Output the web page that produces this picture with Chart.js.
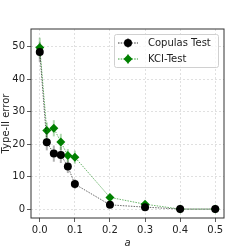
<!DOCTYPE html>
<html>
<head>
<meta charset="utf-8">
<script src="https://cdn.jsdelivr.net/npm/chart.js@4/dist/chart.umd.min.js"></script>
<style>
  html, body { margin: 0; padding: 0; background: #fff; }
  #wrap { width: 249px; height: 249px; }
</style>
</head>
<body>
<div id="wrap"><canvas id="chart" width="249" height="249"></canvas></div>
<script>
// values
const aValues = [0, 0.02, 0.04, 0.06, 0.08, 0.1, 0.2, 0.3, 0.4, 0.5];
const copulasErr = [48.4, 20.6, 17.1, 16.7, 13.1, 7.7, 1.3, 0.6, 0, 0];
const copulasSd = [3, 2.5, 2.5, 2.5, 2, 1.5, 0.8, 0.5, 0, 0];
const kciErr = [49.8, 24.2, 24.9, 20.7, 16.5, 16.0, 3.6, 1.5, 0, 0];
const kciSd = [3, 2.5, 2.5, 2.5, 2, 2, 1, 0.8, 0, 0];
const xTicks = [0, 0.1, 0.2, 0.3, 0.4, 0.5];
const yTicks = [0, 10, 20, 30, 40, 50];
const seriesNames = ['Copulas Test', 'KCI-Test'];

const FONT = 'DejaVu Sans';

function pts(ys) { return aValues.map((x, i) => ({ x: x, y: ys[i] })); }

// vertical error bars, drawn under the markers
const errorBars = {
  id: 'errorBars',
  beforeDatasetsDraw(chart) {
    const ctx = chart.ctx, xs = chart.scales.x, ys = chart.scales.y;
    const sets = [[copulasErr, copulasSd, 'rgba(0,0,0,0.3)'], [kciErr, kciSd, 'rgba(0,128,0,0.3)']];
    ctx.save();
    ctx.lineWidth = 2;
    sets.forEach(([v, sd, col]) => {
      ctx.strokeStyle = col;
      v.forEach((y, i) => {
        if (!sd[i]) return;
        const px = xs.getPixelForValue(aValues[i]);
        ctx.beginPath();
        ctx.moveTo(px, ys.getPixelForValue(y - sd[i]));
        ctx.lineTo(px, ys.getPixelForValue(y + sd[i]));
        ctx.stroke();
      });
    });
    ctx.restore();
  }
};

// frame + matplotlib style legend inside the axes
const frameLegend = {
  id: 'frameLegend',
  afterDraw(chart) {
    const ctx = chart.ctx, a = chart.chartArea;
    ctx.save();
    ctx.strokeStyle = '#333';
    ctx.lineWidth = 1;
    ctx.strokeRect(a.left, a.top, a.right - a.left, a.bottom - a.top);

    const bx = 114.5, by = 34.5, bw = 104, bh = 33;
    ctx.fillStyle = 'rgba(255,255,255,0.8)';
    ctx.strokeStyle = '#d0d0d0';
    ctx.beginPath();
    ctx.roundRect(bx, by, bw, bh, 2);
    ctx.fill();
    ctx.stroke();

    const rows = [
      { y: 43, color: '#000', style: 'circle', r: 4 },
      { y: 59, color: '#008000', style: 'rectRot', r: 4.5 }
    ];
    rows.forEach((row, i) => {
      ctx.strokeStyle = row.color;
      ctx.lineWidth = 0.8;
      ctx.setLineDash([1.5, 1.2]);
      ctx.beginPath();
      ctx.moveTo(118, row.y);
      ctx.lineTo(138, row.y);
      ctx.stroke();
      ctx.setLineDash([]);
      ctx.strokeStyle = row.color === '#000' ? 'rgba(0,0,0,0.3)' : 'rgba(0,128,0,0.3)';
      ctx.lineWidth = 2;
      ctx.beginPath();
      ctx.moveTo(128, row.y - 5);
      ctx.lineTo(128, row.y + 5);
      ctx.stroke();
      ctx.fillStyle = row.color;
      ctx.strokeStyle = row.color;
      Chart.helpers.drawPoint(ctx, { pointStyle: row.style, radius: row.r, borderWidth: 0 }, 128, row.y);
      ctx.fillStyle = '#222';
      ctx.font = '10px ' + FONT;
      ctx.textBaseline = 'middle';
      ctx.fillText(seriesNames[i], 148, row.y + 0.5);
    });
    ctx.restore();
  }
};

new Chart(document.getElementById('chart'), {
  type: 'line',
  data: {
    datasets: [
      {
        label: seriesNames[0],
        data: pts(copulasErr),
        borderColor: 'rgba(0,0,0,0.75)',
        borderWidth: 0.8,
        borderDash: [1.5, 1.2],
        pointStyle: 'circle',
        pointRadius: 4,
        pointBackgroundColor: '#000',
        pointBorderColor: '#000',
        pointBorderWidth: 0
      },
      {
        label: seriesNames[1],
        data: pts(kciErr),
        borderColor: 'rgba(0,128,0,0.75)',
        borderWidth: 0.8,
        borderDash: [1.5, 1.2],
        pointStyle: 'rectRot',
        pointRadius: 4.5,
        pointBackgroundColor: '#008000',
        pointBorderColor: '#008000',
        pointBorderWidth: 0
      }
    ]
  },
  options: {
    responsive: false,
    animation: false,
    devicePixelRatio: 1,
    layout: { padding: { top: 29, right: 25, left: 0, bottom: 0 } },
    plugins: { legend: { display: false }, tooltip: { enabled: false } },
    scales: {
      x: {
        type: 'linear',
        min: -0.025,
        max: 0.525,
        afterBuildTicks: s => { s.ticks = xTicks.map(v => ({ value: v })); },
        afterFit: s => { s.height = 31; },
        ticks: {
          callback: v => v.toFixed(1),
          color: '#222',
          font: { family: FONT, size: 10 },
          padding: 2,
          maxRotation: 0
        },
        grid: { color: '#d8d8d8', lineWidth: 0.8, tickColor: '#333', tickLength: 4 },
        border: { display: false, dash: [2, 2] },
        title: {
          display: true,
          text: 'a',
          color: '#222',
          font: { family: FONT, size: 10, style: 'italic' },
          padding: { top: 0, bottom: 0 }
        }
      },
      y: {
        type: 'linear',
        min: -2.75,
        max: 55.5,
        afterBuildTicks: s => { s.ticks = yTicks.map(v => ({ value: v })); },
        afterFit: s => { s.width = 31; },
        ticks: {
          color: '#222',
          font: { family: FONT, size: 10 },
          padding: 2
        },
        grid: { color: '#d8d8d8', lineWidth: 0.8, tickColor: '#333', tickLength: 4 },
        border: { display: false, dash: [2, 2] },
        title: {
          display: true,
          text: 'Type-II error',
          color: '#222',
          font: { family: FONT, size: 10 },
          padding: { top: 0, bottom: 0 }
        }
      }
    }
  },
  plugins: [errorBars, frameLegend]
});
</script>
</body>
</html>
